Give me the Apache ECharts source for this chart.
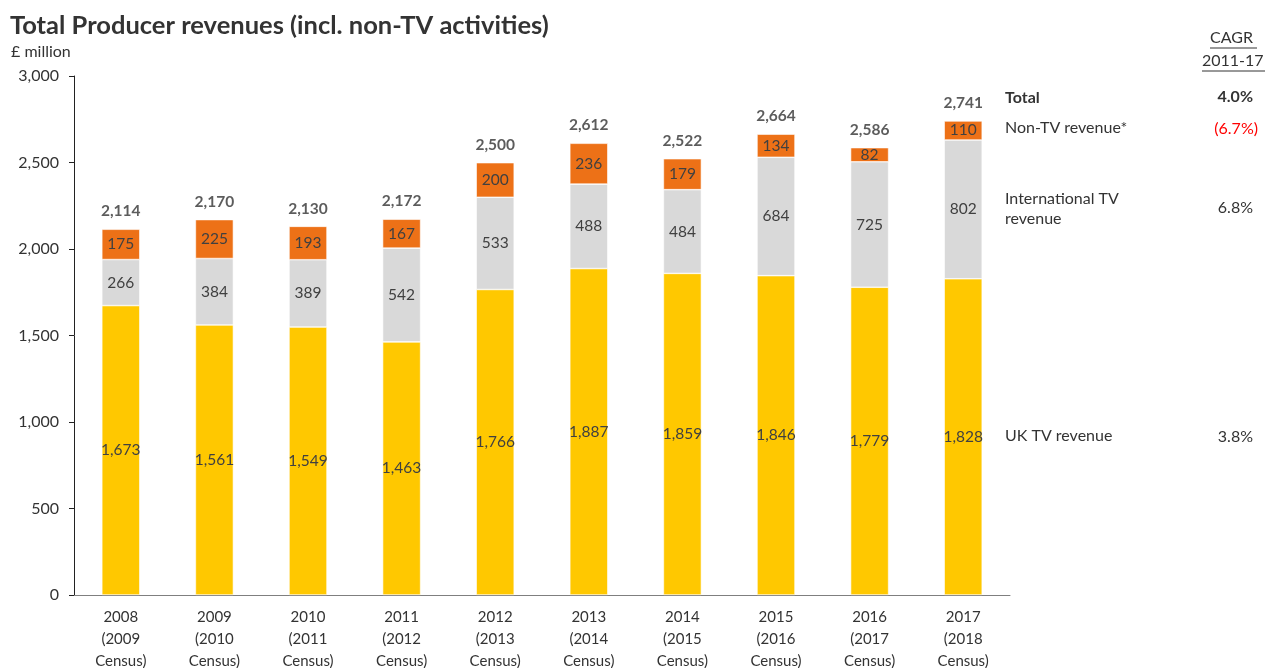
<!DOCTYPE html>
<html><head><meta charset="utf-8">
<script src="https://cdn.jsdelivr.net/npm/echarts@6/dist/echarts.min.js"></script>
<style>html,body{margin:0;padding:0;background:#fff}#c{width:1268px;height:668px}</style>
</head><body><div id="c"></div>
<script>
const categories = ['2008\n(2009\nCensus)','2009\n(2010\nCensus)','2010\n(2011\nCensus)','2011\n(2012\nCensus)','2012\n(2013\nCensus)','2013\n(2014\nCensus)','2014\n(2015\nCensus)','2015\n(2016\nCensus)','2016\n(2017\nCensus)','2017\n(2018\nCensus)'];
const ukTV = [1673,1561,1549,1463,1766,1887,1859,1846,1779,1828];
const intlTV = [266,384,389,542,533,488,484,684,725,802];
const nonTV = [175,225,193,167,200,236,179,134,82,110];
const totals = [2114,2170,2130,2172,2500,2612,2522,2664,2586,2741];
const cagrLabels = ['Total','Non-TV revenue*','International TV\nrevenue','UK TV revenue'];
const cagrValues = ['4.0%','(6.7%)','6.8%','3.8%'];

const FONT = 'Lato, "Open Sans", sans-serif';
const fmt = v => v.toLocaleString('en-US');
const chart = echarts.init(document.getElementById('c'));
const segLabel = {show:true, position:'inside', color:'#404040', fontSize:15.5, fontFamily:FONT, formatter:p=>fmt(p.value)};
chart.setOption({
  animation:false,
  textStyle:{fontFamily:FONT},
  title:{text:'Total Producer revenues (incl. non-TV activities)', left:5, top:8,
    textStyle:{fontSize:25.5, fontWeight:'bold', color:'#333', fontFamily:FONT}},
  grid:{left:74, right:258, top:76, bottom:73, outerBoundsMode:'none', containLabel:false},
  xAxis:{type:'category', data:categories,
    axisLine:{lineStyle:{color:'#7f7f7f', width:1}}, axisTick:{show:false},
    axisLabel:{color:'#333', fontSize:15, lineHeight:22, margin:11, fontFamily:FONT}},
  yAxis:{type:'value', min:0, max:3000, interval:500,
    name:'£ million', nameLocation:'end', nameGap:16, nameTextStyle:{align:'left', color:'#333', fontSize:16, padding:[0,0,0,-63], fontFamily:FONT},
    axisLine:{show:true, lineStyle:{color:'#222', width:1}},
    axisTick:{show:true, length:5, lineStyle:{color:'#222'}},
    splitLine:{show:false},
    axisLabel:{color:'#333', fontSize:16, margin:15, fontFamily:FONT, formatter:v=>fmt(v)}},
  series:[
    {name:'UK TV revenue', type:'bar', stack:'a', data:ukTV, barWidth:38,
      itemStyle:{color:'#FFC800', borderColor:'#fff', borderWidth:0.6}, label:segLabel},
    {name:'International TV revenue', type:'bar', stack:'a', data:intlTV,
      itemStyle:{color:'#D9D9D9', borderColor:'#fff', borderWidth:0.6}, label:segLabel},
    {name:'Non-TV revenue', type:'bar', stack:'a', data:nonTV,
      itemStyle:{color:'#ED7117', borderColor:'#fff', borderWidth:0.6}, label:segLabel},
    {name:'Total', type:'scatter', data:totals, symbolSize:0, silent:true,
      label:{show:true, position:'top', distance:10, color:'#333', fontSize:15.5, fontWeight:'bold', fontFamily:FONT, formatter:p=>fmt(p.value)}}
  ],
  graphic:[
    {type:'text', left:1210, top:30, style:{text:'CAGR', fill:'#333', font:'16px '+FONT}},
    {type:'line', shape:{x1:1210,y1:48,x2:1257,y2:48}, style:{stroke:'#333', lineWidth:1}},
    {type:'text', left:1202, top:53, style:{text:'2011-17', fill:'#333', font:'16px '+FONT}},
    {type:'line', shape:{x1:1202,y1:71,x2:1265,y2:71}, style:{stroke:'#333', lineWidth:1}},
    {type:'text', left:1005, top:90, style:{text:cagrLabels[0], fill:'#333', font:'bold 16px '+FONT}},
    {type:'text', left:1005, top:120, style:{text:cagrLabels[1], fill:'#333', font:'16px '+FONT}},
    {type:'text', left:1005, top:189, style:{text:cagrLabels[2], fill:'#333', font:'16px '+FONT, lineHeight:20}},
    {type:'text', left:1005, top:428, style:{text:cagrLabels[3], fill:'#333', font:'16px '+FONT}},
    {type:'text', right:15, top:89, style:{text:cagrValues[0], fill:'#333', font:'bold 16px '+FONT}},
    {type:'text', right:10, top:121, style:{text:cagrValues[1], fill:'#FF0000', font:'16px '+FONT}},
    {type:'text', right:15, top:200, style:{text:cagrValues[2], fill:'#333', font:'16px '+FONT}},
    {type:'text', right:15, top:429, style:{text:cagrValues[3], fill:'#333', font:'16px '+FONT}}
  ]
});
</script></body></html>
